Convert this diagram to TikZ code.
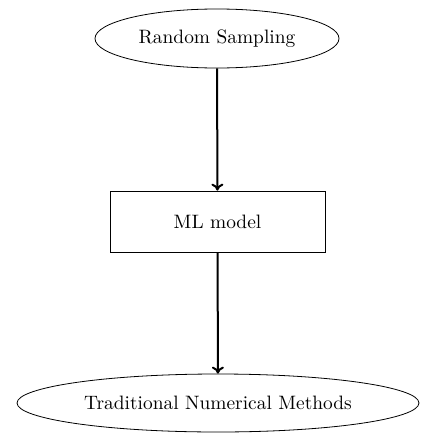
\documentclass[tikz,border=0pt]{standalone}
\usetikzlibrary{shapes.geometric,arrows.meta}
\begin{document}
\begin{tikzpicture}[x=0.5pt,y=-0.5pt,
  ell/.style={draw,ellipse,inner sep=0pt,font=\fontsize{9.7}{12}\selectfont},
  box/.style={draw,rectangle,inner sep=0pt,minimum width=107.5pt,minimum height=30.5pt,font=\fontsize{9.7}{12}\selectfont},
  arr/.style={-{To[length=3.5pt,width=6pt]},line width=1pt}]
\useasboundingbox (0,0) rectangle (420,434);
\node[ell,minimum width=122pt,minimum height=29.5pt] (rs) at (217,38.5) {Random Sampling};
\node[box] (ml) at (217.5,221.5) {ML model};
\node[ell,minimum width=201pt,minimum height=29pt] (tn) at (218,403) {Traditional Numerical Methods};
\draw[arr] (rs) -- (ml);
\draw[arr] (ml) -- (tn);
\end{tikzpicture}
\end{document}
